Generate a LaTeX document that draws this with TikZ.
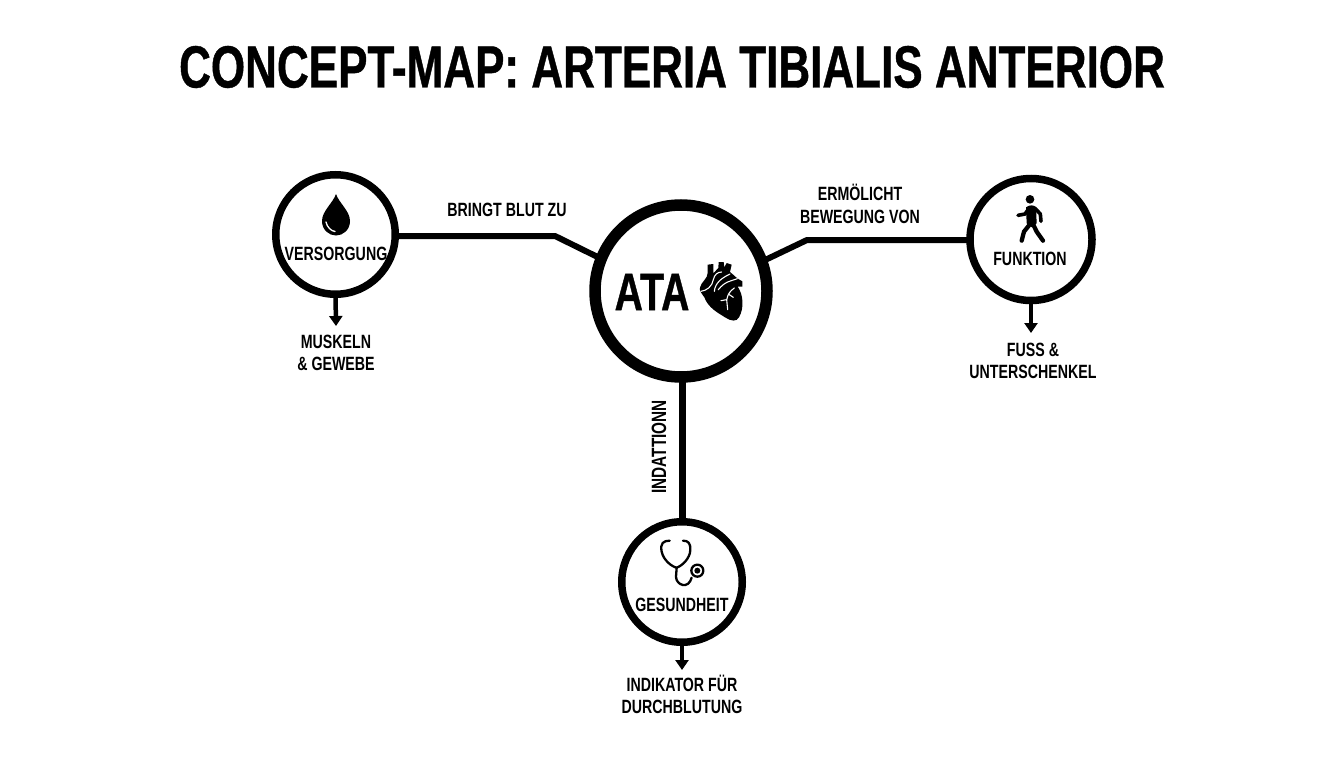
\documentclass[tikz,border=0pt]{standalone}
\usepackage{fontspec}
\setmainfont{Liberation Sans}
\newfontfamily\cond[FakeStretch=0.74]{Liberation Sans}
\newfontfamily\heavy[FakeStretch=0.74,BoldFeatures={FakeStretch=0.74,FakeBold=0.7}]{Liberation Sans}
\usetikzlibrary{arrows.meta}
\tikzset{
  ring/.style={circle,draw=black,fill=white,line width=7.5pt,inner sep=0pt,outer sep=0pt},
  link/.style={draw=black,line width=6pt,line join=miter},
  lbl/.style={inner sep=0pt,outer sep=0pt,align=center,font=\cond\bfseries\fontsize{19.2}{22.5}\selectfont,text=black},
  down/.style={draw=black,line width=4.5pt,-{Triangle[width=13pt,length=10pt]}},
  whiteline/.style={draw=white,line width=1.1pt,line cap=round,line join=round},
  limb/.style={draw=black,line width=3.6pt,line cap=round,line join=round},
  tube/.style={draw=black,line width=2.3pt,line cap=round,line join=round},
  icon/.style={shift={#1},x=0.3333pt,y=-0.3333pt},
}
\begin{document}
\begin{tikzpicture}[x=1pt,y=-1pt]
\useasboundingbox (0,0) rectangle (1344,768);
\fill[white] (0,0) rectangle (1344,768);
\node[inner sep=0pt,font=\heavy\bfseries\fontsize{59.5}{64}\selectfont] (title) at (672,67) {CONCEPT-MAP: ARTERIA TIBIALIS ANTERIOR};
% nodes
\node[ring,line width=11.5pt,minimum size=172pt] (ata) at (681,291) {};
\node[ring,minimum size=119.5pt] (vers) at (335.5,234.5) {};
\node[ring,minimum size=122pt] (funk) at (1031,239.5) {};
\node[ring,minimum size=120.5pt] (ges) at (682,582) {};
\coordinate (bendL) at (555,236);
\coordinate (bendR) at (807,240);
% text
\node[inner sep=0pt,font=\heavy\bfseries\fontsize{53}{56}\selectfont] (atat) at (652,292) {ATA};
\node[lbl] (versT) at (336,254) {VERSORGUNG};
\node[lbl] (funkT) at (1030,259) {FUNKTION};
\node[lbl] (gesT) at (682,605) {GESUNDHEIT};
\node[lbl] (muskel) at (336,353) {MUSKELN\\\& GEWEBE};
\node[lbl] (fuss) at (1033,361) {FUSS \&\\UNTERSCHENKEL};
\node[lbl] (indik) at (682,694.5) {INDIKATOR FÜR\\DURCHBLUTUNG};
\node[lbl] (bringt) at (507,210) {BRINGT BLUT ZU};
\node[lbl] (ermog) at (860,204) {ERMÖLICHT\\BEWEGUNG VON};
\node[lbl,rotate=90,font=\cond\bfseries\fontsize{20.7}{22.5}\selectfont] (indat) at (659,447) {INDATTIONN};
% connectors
\draw[link] (vers.east |- bendL) -- (bendL) -- (ata.158);
\draw[link] (funk.west |- bendR) -- (bendR) -- (ata.20);
\draw[link,line width=7pt] (ata.south -| ges.north) -- (ges.north);
\coordinate (tipV) at (336,326);
\coordinate (tipF) at (1031,333);
\coordinate (tipG) at (682,670);
\draw[down] (vers.south) -- (tipV);
\draw[down] (funk.south) -- (tipF);
\draw[down] (ges.south) -- (tipG);
% drop
\fill[black] (336,194) .. controls (333,203) and (322,211) .. (322,221) .. controls (322,230) and (329,235.5) .. (336,235.5) .. controls (343,235.5) and (350,230) .. (350,221) .. controls (350,211) and (339,203) .. (336,194) -- cycle;
\draw[whiteline,line width=1.3pt] (326,222) .. controls (327,227) and (331,231) .. (335,231.5);
% heart
\begin{scope}[icon={(695,258)}]
\fill[black] (38,20) -- (55,18) -- (55,46) -- (70,30) -- (71,12) -- (86,12) -- (88,28) -- (95,15) -- (110,20) -- (105,42)
  .. controls (118,52) and (125,62) .. (142,70) -- (142,86) -- (128,86)
  .. controls (145,110) and (148,150) .. (132,178)
  .. controls (125,192) and (108,190) .. (90,178)
  .. controls (70,165) and (40,150) .. (28,118)
  .. controls (22,108) and (12,100) .. (15,88)
  .. controls (20,70) and (38,62) .. (38,45) -- cycle;
\draw[whiteline] (18,100) .. controls (35,98) and (52,85) .. (55,65) .. controls (58,50) and (68,42) .. (80,42);
\draw[whiteline] (58,100) .. controls (60,75) and (80,60) .. (105,48);
\draw[whiteline] (70,95) .. controls (90,70) and (105,70) .. (127,62);
\draw[whiteline] (118,90) .. controls (105,100) and (100,105) .. (95,125) -- (98,155);
\draw[whiteline] (95,125) -- (78,128);
\draw[whiteline] (100,108) -- (115,118);
\end{scope}
% walker
\begin{scope}[icon={(1010,190)}]
\fill[black] (60,28) circle[radius=13];
\fill[black] (48,52) .. controls (58,44) and (72,44) .. (78,52) -- (80,100) -- (66,112) -- (50,100) -- cycle;
\draw[limb] (24,76) -- (45,72) -- (58,54);
\draw[limb] (74,54) -- (91,72) -- (93,94);
\draw[limb,line width=4.3pt] (62,100) -- (42,125) -- (35,152);
\draw[limb,line width=4.3pt] (68,100) -- (80,125) -- (99,152);
\end{scope}
% stethoscope
\begin{scope}[icon={(655,535)}]
\draw[tube] (44,17) .. controls (25,17) and (15,25) .. (20,50) .. controls (25,75) and (50,95) .. (65,98) .. controls (82,92) and (105,70) .. (106,45) .. controls (107,25) and (100,17) .. (84,17);
\draw[tube] (65,98) -- (63,125) .. controls (63,150) and (100,165) .. (110,128);
\draw[tube] (127,107) circle[radius=18];
\fill[black] (127,107) circle[radius=9];
\end{scope}
\end{tikzpicture}
\end{document}
